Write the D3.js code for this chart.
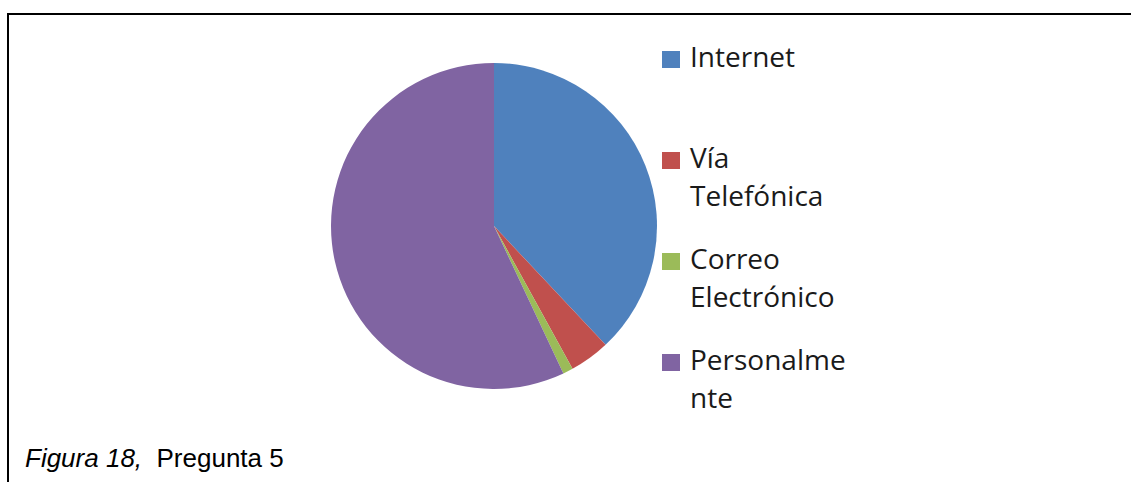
<!DOCTYPE html>
<html>
<head>
<meta charset="utf-8">
<script src="https://cdn.jsdelivr.net/npm/d3@7"></script>
<style>
  html, body { margin: 0; padding: 0; background: #fff; }
  svg { display: block; }
</style>
</head>
<body>
<svg id="chart" width="1131" height="482"></svg>
<script>
// Canal de contacto (Pregunta 5), porcentaje de respuestas
const categories = ["Internet", "Vía Telefónica", "Correo Electrónico", "Personalmente"];
const values = [38, 4, 1, 57];
const colors = ["#4F81BD", "#C0504D", "#9BBB59", "#8064A2"];
// Etiquetas de la leyenda tal como se parten en renglones
const legendLines = [["Internet"], ["Vía", "Telefónica"], ["Correo", "Electrónico"], ["Personalme", "nte"]];

const svg = d3.select("#chart");

// Marco del gráfico
svg.append("path")
  .attr("d", "M8,482 V14 H1131")
  .attr("fill", "none")
  .attr("stroke", "#000")
  .attr("stroke-width", 2);

// Pastel
const cx = 494, cy = 226, r = 163;
const pie = d3.pie().sort(null).value(d => d.value);
const arc = d3.arc().innerRadius(0).outerRadius(r);
const color = d3.scaleOrdinal().domain(categories).range(colors);

const data = categories.map((c, i) => ({ name: c, value: values[i] }));

svg.append("g")
  .attr("transform", `translate(${cx},${cy})`)
  .selectAll("path")
  .data(pie(data))
  .join("path")
  .attr("d", arc)
  .attr("fill", d => color(d.data.name));

// Leyenda
const ly = d3.scalePoint().domain(categories).range([67, 370]);
const lineGap = 38;
const legend = svg.append("g");
const item = legend.selectAll("g")
  .data(categories)
  .join("g")
  .attr("transform", c => `translate(0,${ly(c)})`);

item.append("rect")
  .attr("x", 662)
  .attr("y", -16)
  .attr("width", 18)
  .attr("height", 17)
  .attr("fill", c => color(c));

item.append("text")
  .attr("font-family", "'Open Sans', sans-serif")
  .attr("font-size", 28)
  .attr("fill", "#1a1a1a")
  .selectAll("tspan")
  .data((c, i) => legendLines[i])
  .join("tspan")
  .attr("x", 690)
  .attr("y", (d, j) => j * lineGap)
  .text(d => d);

// Pie de figura
const cap = svg.append("text")
  .attr("x", 25)
  .attr("y", 467)
  .attr("font-family", "'Liberation Sans', Arial, sans-serif")
  .attr("font-size", 26)
  .attr("fill", "#000")
  .attr("xml:space", "preserve");
cap.append("tspan").attr("font-style", "italic").text("Figura 18,");
cap.append("tspan").text("  Pregunta 5");
</script>
</body>
</html>
